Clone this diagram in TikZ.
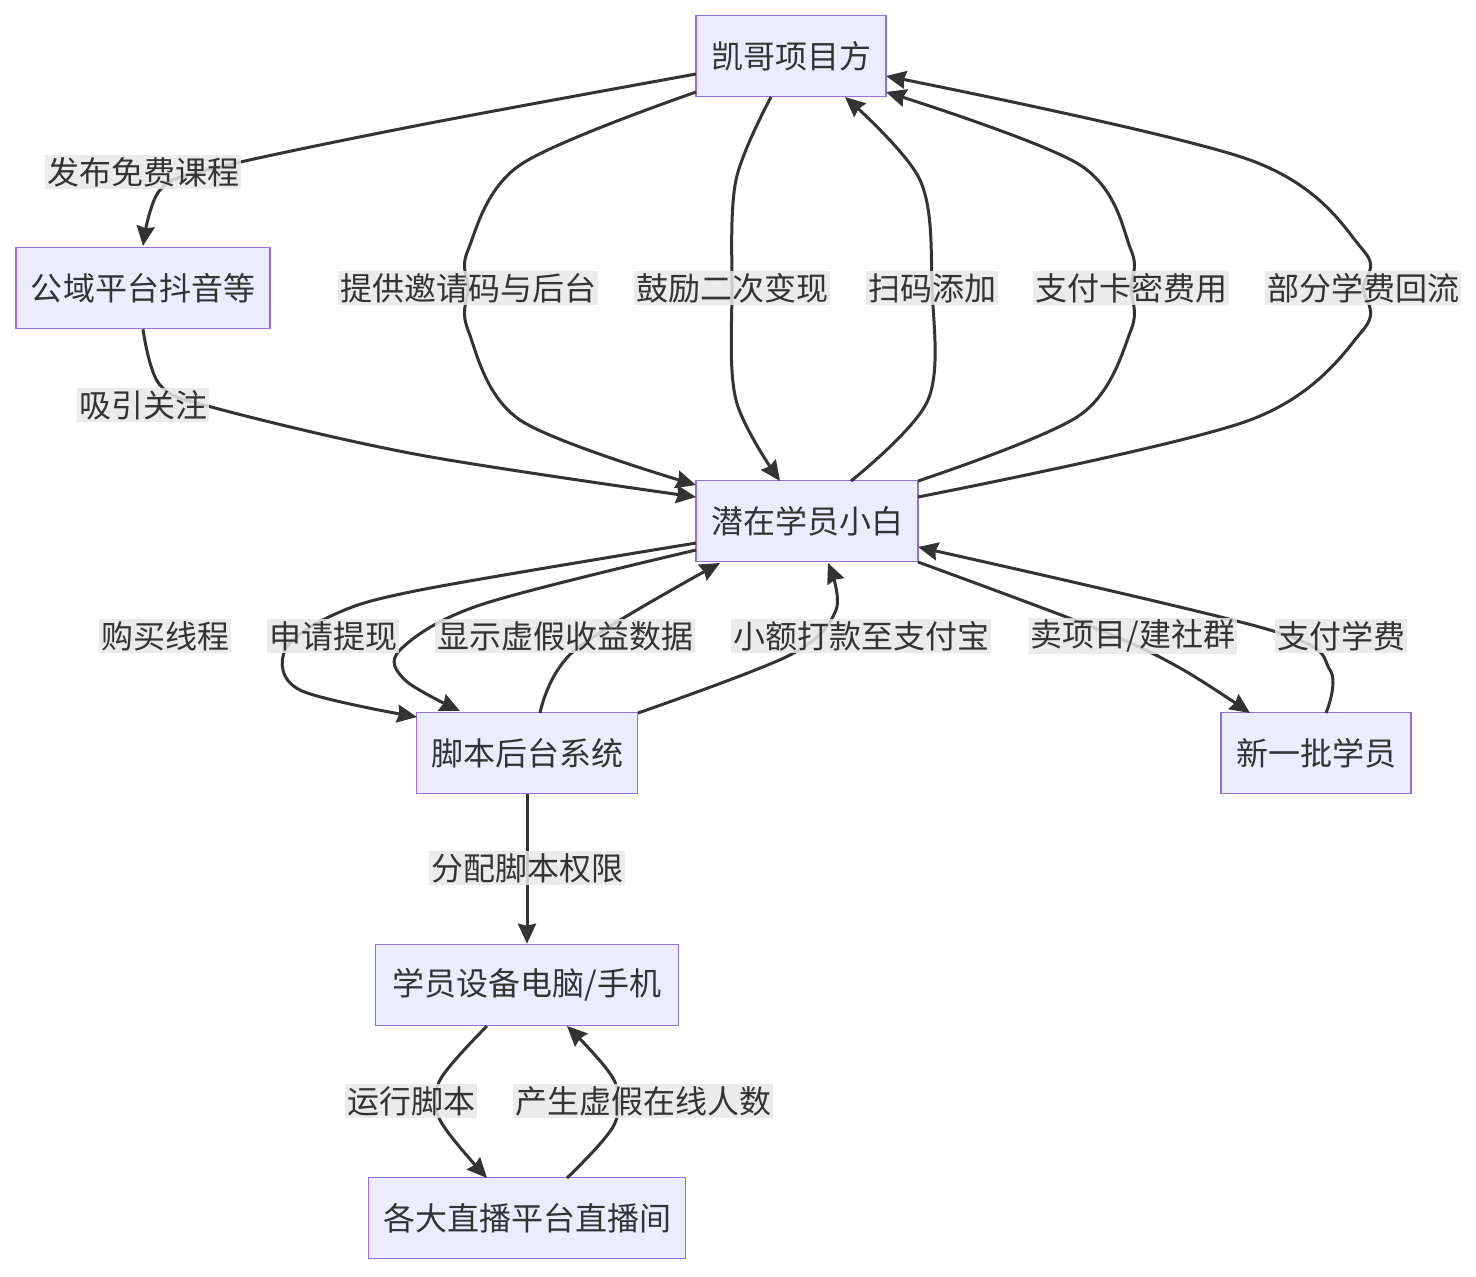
\documentclass[tikz,border=0pt]{standalone}
\usepackage{fontspec}
\setmainfont{Noto Sans CJK SC}
\usetikzlibrary{arrows.meta}
\begin{document}
\begin{tikzpicture}[x=0.5pt,y=-0.5pt,
 box/.style={draw=mmstroke,fill=mmfill,line width=0.75pt,minimum height=40.5pt,inner sep=0pt,font=\fontsize{16}{18}\selectfont,text=black!80},
 lab/.style={fill=mmlab,fill opacity=0.85,text opacity=1,inner sep=1pt,font=\fontsize{16}{18}\selectfont,text=black!80},
 edge/.style={draw=black!80,line width=1.5pt,-{Stealth[length=10pt,width=9pt,inset=1pt]}}]
\definecolor{mmstroke}{HTML}{9370DB}
\definecolor{mmfill}{HTML}{ECECFF}
\definecolor{mmlab}{HTML}{E8E8E8}
\useasboundingbox (0,0) rectangle (1476,1276);
\node[box,minimum width=95pt] (k) at (791,56) {凯哥项目方};
\node[box,minimum width=127pt] (g) at (143,288) {公域平台抖音等};
\node[box,minimum width=111pt] (q) at (807,521) {潜在学员小白};
\node[box,minimum width=110.5pt] (j) at (527,753) {脚本后台系统};
\node[box,minimum width=95pt] (x) at (1316,753) {新一批学员};
\node[box,minimum width=151.5pt] (d) at (527,985) {学员设备电脑/手机};
\node[box,minimum width=158.5pt] (l) at (527,1218) {各大直播平台直播间};
\tikzset{sm/.style={smooth,tension=0.55}}
\draw[edge] plot[sm] coordinates {(696,74) (420,125) (215,168) (160,190) (143,246)};
\draw[edge] plot[sm] coordinates {(g.south) (160,385) (215,408) (420,455) (696,497)};
\draw[edge] plot[sm] coordinates {(696,92) (520,165) (468,250) (468,288) (468,330) (520,420) (696,485)};
\draw[edge] plot[sm] coordinates {(771,97) (736,180) (732,288) (736,400) (780,481)};
\draw[edge] plot[sm] coordinates {(851,481) (928,400) (932,288) (920,180) (845,97)};
\draw[edge] plot[sm] coordinates {(918,481) (1080,415) (1131,330) (1131,288) (1131,250) (1080,165) (886,92)};
\draw[edge] plot[sm] coordinates {(918,497) (1250,420) (1363,330) (1363,288) (1363,250) (1250,160) (886,76)};
\draw[edge] plot[sm] coordinates {(696,543) (420,590) (333,615) (285,650) (300,690) (417,717)};
\draw[edge] plot[sm] coordinates {(696,550) (480,605) (400,650) (405,680) (460,711)};
\draw[edge] plot[sm] coordinates {(540,713) (575,650) (720,563)};
\draw[edge] plot[sm] coordinates {(638,713) (790,655) (836,610) (828,563)};
\draw[edge] plot[sm] coordinates {(918,562) (1100,630) (1180,668) (1250,713)};
\draw[edge] plot[sm] coordinates {(1326,713) (1330,670) (1270,630) (918,547)};
\draw[edge] (j.south) -- (d.north);
\draw[edge] plot[sm] coordinates {(487,1026) (440,1080) (440,1120) (487,1178)};
\draw[edge] plot[sm] coordinates {(567,1178) (614,1125) (614,1080) (567,1026)};
\node[lab] at (143,172) {发布免费课程};
\node[lab] at (143,405) {吸引关注};
\node[lab] at (468,288) {提供邀请码与后台};
\node[lab] at (732,288) {鼓励二次变现};
\node[lab] at (932,288) {扫码添加};
\node[lab] at (1131,288) {支付卡密费用};
\node[lab] at (1363,288) {部分学费回流};
\node[lab] at (165,636) {购买线程};
\node[lab] at (333,636) {申请提现};
\node[lab] at (565,636) {显示虚假收益数据};
\node[lab] at (861,636) {小额打款至支付宝};
\node[lab] at (1133,636) {卖项目/建社群};
\node[lab] at (1341,636) {支付学费};
\node[lab] at (527,868) {分配脚本权限};
\node[lab] at (411,1101) {运行脚本};
\node[lab] at (643,1101) {产生虚假在线人数};
\end{tikzpicture}
\end{document}
